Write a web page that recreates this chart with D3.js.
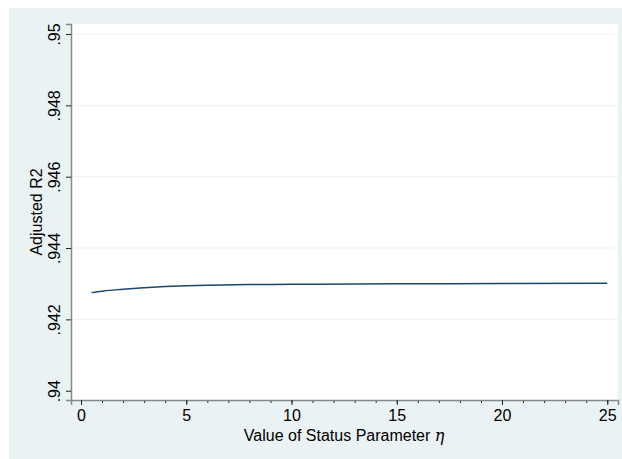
<!DOCTYPE html>
<html>
<head>
<meta charset="utf-8">
<script src="https://cdn.jsdelivr.net/npm/d3@7"></script>
<style>
  body { margin: 0; background: #fff; }
  text { font-family: "Liberation Sans", Arial, sans-serif; fill: #000; }
</style>
</head>
<body>
<div id="chart"></div>
<script>
// status parameter eta and the adjusted R2 that goes with it
var etaValues = [0.5, 1, 1.5, 2, 2.5, 3, 4, 5, 6, 8, 10, 15, 20, 25]
var r2Values = [0.94275, 0.94279, 0.94282, 0.942845, 0.942868, 0.942888, 0.94292, 0.942945, 0.94296, 0.942975, 0.942984, 0.942996, 0.943005, 0.943012]

var xTicks = [0, 5, 10, 15, 20, 25]
var xMinorTicks = d3.range(0, 26)
var yTicks = [0.94, 0.942, 0.944, 0.946, 0.948, 0.95]
var yTickLabels = [".94", ".942", ".944", ".946", ".948", ".95"]

var W = 622, H = 459
var m = { top: 24, right: 4, bottom: 59, left: 71 }
var w = W - m.left - m.right,
    h = H - m.top - m.bottom

var svg = d3.select("#chart").append("svg")
    .attr("width", W)
    .attr("height", H)

// outer background
svg.append("rect")
    .attr("x", 9).attr("y", 8)
    .attr("width", W - 9).attr("height", H - 8)
    .attr("fill", "#eaf2f3")

var g = svg.append("g")
    .attr("transform", "translate(" + m.left + "," + m.top + ")")

g.append("rect")
    .attr("width", w).attr("height", h)
    .attr("fill", "#fff")

var x = d3.scaleLinear().domain([-0.475, 25.51]).range([0, w])
var y = d3.scaleLinear().domain([0.93974, 0.95028]).range([h, 0])

// grid
g.append("g").selectAll("line")
    .data(yTicks.slice(1))
    .enter().append("line")
    .attr("x1", 0).attr("x2", w)
    .attr("y1", function (d) { return y(d) })
    .attr("y2", function (d) { return y(d) })
    .attr("stroke", "#eaf2f3")
    .attr("stroke-width", 1)

// line
var line = d3.line()
    .x(function (d, i) { return x(etaValues[i]) })
    .y(function (d) { return y(d) })
    .curve(d3.curveMonotoneX)

g.append("path")
    .datum(r2Values)
    .attr("d", line)
    .attr("fill", "none")
    .attr("stroke", "#1a476f")
    .attr("stroke-width", 1.5)

// y axis
var yAxis = d3.axisLeft(y)
    .tickValues(yTicks)
    .tickFormat(function (d, i) { return yTickLabels[i] })
    .tickSize(5)

var gy = g.append("g").call(yAxis)
gy.select(".domain").attr("stroke", "#888").attr("stroke-width", 1.5)
gy.selectAll(".tick line").attr("stroke", "#222")
gy.selectAll(".tick text")
    .attr("font-size", 16)
    .attr("transform", "rotate(-90)")
    .attr("text-anchor", "middle")
    .attr("x", 0)
    .attr("y", -11)
    .attr("dy", 0)

// x axis, minor ticks first
g.append("g")
    .attr("transform", "translate(0," + h + ")")
    .call(d3.axisBottom(x).tickValues(xMinorTicks).tickSize(3).tickFormat(""))
    .call(function (s) {
        s.select(".domain").remove()
        s.selectAll(".tick line").attr("stroke", "#222")
    })

var gx = g.append("g")
    .attr("transform", "translate(0," + h + ")")
    .call(d3.axisBottom(x).tickValues(xTicks).tickSize(5).tickPadding(5))
gx.select(".domain").attr("stroke", "#888").attr("stroke-width", 1.5)
gx.selectAll(".tick line").attr("stroke", "#222")
gx.selectAll(".tick text").attr("font-size", 16)

// titles
svg.append("text")
    .attr("x", m.left + x(12.5))
    .attr("y", 441)
    .attr("text-anchor", "middle")
    .attr("font-size", 16)
    .html('Value of Status Parameter <tspan font-family="DejaVu Serif" font-style="italic">η</tspan>')

svg.append("text")
    .attr("transform", "translate(42," + (m.top + h / 2) + ") rotate(-90)")
    .attr("text-anchor", "middle")
    .attr("font-size", 16)
    .text("Adjusted R2")
</script>
</body>
</html>
